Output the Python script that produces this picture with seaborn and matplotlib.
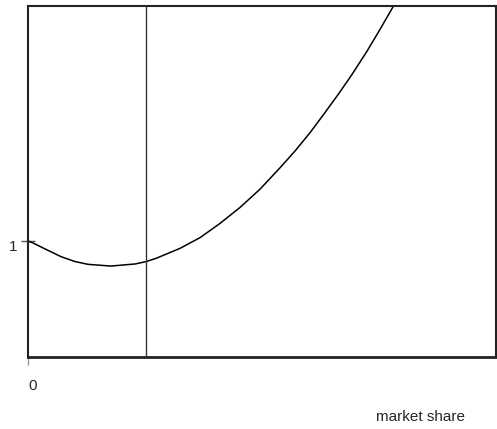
import matplotlib
matplotlib.use("Agg")
import matplotlib.pyplot as plt
import matplotlib.transforms as mtransforms
import seaborn as sns
import pandas as pd

# market share (fraction) and curve value
share = [0.0, 0.0107, 0.0363, 0.0705, 0.1004, 0.128, 0.177, 0.229, 0.252, 0.274,
         0.325, 0.368, 0.410, 0.453, 0.496, 0.538, 0.571, 0.603, 0.632, 0.662,
         0.692, 0.724, 0.752, 0.781]
value = [1.0, 0.983, 0.932, 0.865, 0.823, 0.799, 0.784, 0.802, 0.822, 0.851,
         0.937, 1.030, 1.151, 1.289, 1.448, 1.629, 1.778, 1.936, 2.093, 2.259,
         2.434, 2.634, 2.823, 3.026]
marker_share = 0.252
x_ticks = [0]
x_tick_labels = ["0"]
y_ticks = [1]
y_tick_labels = ["1"]
x_label = "market share"

sns.set_style("white")
plt.rcParams['font.family'] = ['Liberation Sans', 'DejaVu Sans']

fig = plt.figure(figsize=(4.97, 4.29), dpi=100)
ax = fig.add_axes([28/497, (429-357)/429, 468/497, 351/429])

df = pd.DataFrame({"share": share, "value": value})
sns.lineplot(data=df, x="share", y="value", ax=ax, color="black", linewidth=1.1, sort=True)
ax.axvline(marker_share, color="#333333", linewidth=1.0)

ax.set_xlim(0, 1.0)
ax.set_ylim(0, 3.026)
ax.set_xticks(x_ticks)
ax.set_xticklabels(x_tick_labels, fontsize=11)
ax.set_yticks(y_ticks)
ax.set_yticklabels(y_tick_labels, fontsize=11)
ax.tick_params(axis="x", bottom=True, direction="out", length=6, width=1, color="#999999", pad=10)
ax.tick_params(axis="y", left=True, direction="inout", length=10, width=1, color="#555555", pad=3)
for lbl in ax.get_xticklabels():
    lbl.set_horizontalalignment("left")
off = mtransforms.ScaledTranslation(0, -4/100, fig.dpi_scale_trans)
for lbl in ax.get_yticklabels():
    lbl.set_transform(lbl.get_transform() + off)
ax.set_xlabel("")
ax.set_ylabel("")
for s in ax.spines.values():
    s.set_color("#222222")
    s.set_linewidth(1.5)
ax.spines["bottom"].set_linewidth(2)

fig.text(421/497, 1 - 417/429, x_label, ha="center", va="center", fontsize=11)

fig.savefig("out.png", dpi=100)
